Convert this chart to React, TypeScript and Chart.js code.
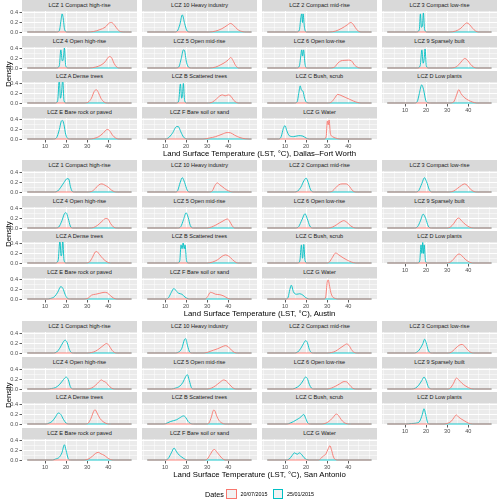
import React, { useEffect, useRef } from "react";
import { Chart, registerables } from "chart.js";

Chart.register(...registerables);

const FONT = '"Liberation Sans", Arial, Helvetica, sans-serif';

// ---------- categories / labels ----------
const cityNames = ["Dallas–Fort Worth", "Austin", "San Antonio"];
const lczNames = [
  "LCZ 1 Compact high-rise", "LCZ 10 Heavy industry", "LCZ 2 Compact mid-rise", "LCZ 3 Compact low-rise",
  "LCZ 4 Open high-rise", "LCZ 5 Open mid-rise", "LCZ 6 Open low-rise", "LCZ 9 Sparsely built",
  "LCZ A Dense trees", "LCZ B Scattered trees", "LCZ C Bush, scrub", "LCZ D Low plants",
  "LCZ E Bare rock or paved", "LCZ F Bare soil or sand", "LCZ G Water",
];
const dateLabels = ["20/07/2015", "25/01/2015"];
const dateColors = ["#F8766D", "#00BFC4"];
const xTickLabels = [10, 20, 30, 40];
const xGridValues = [0, 5, 10, 15, 20, 25, 30, 35, 40, 45, 50];
const yTickLabels = [0, 0.2, 0.4];
const yGridValues = [0, 0.1, 0.2, 0.3, 0.4];
const xLimits = [-0.9, 53.6];
const yLimits = [-0.021, 0.441];
const dataRange = [1.6, 51];

// ---------- density curves: [LST, density] ----------
const dfwSummer = [
  [[30,0],[33,0.01],[36,0.05],[38.5,0.1],[40.5,0.19],[41.5,0.2],[43,0.14],[44.5,0.05],[46,0.005],[48,0]],
  [[31,0],[34,0.02],[37,0.07],[39.5,0.14],[41,0.18],[42.5,0.14],[44.5,0.05],[47,0.005],[48.5,0]],
  [[31,0],[34,0.02],[37,0.08],[39.5,0.15],[41.2,0.2],[42.5,0.15],[44,0.05],[46,0]],
  [[31,0],[34,0.02],[36.5,0.08],[38,0.15],[39.3,0.19],[40.5,0.16],[42,0.08],[43.5,0.02],[45,0]],
  [[31,0],[34,0.02],[36.5,0.06],[38.5,0.13],[40.5,0.24],[41.5,0.22],[42.7,0.1],[44,0.02],[45.5,0]],
  [[31,0],[34,0.02],[36.5,0.07],[38.5,0.12],[40,0.17],[41.2,0.22],[42.2,0.16],[43.5,0.05],[45,0]],
  [[31,0],[33.5,0.02],[35,0.1],[36.5,0.15],[38,0.16],[40,0.165],[41.5,0.15],[43,0.06],[45,0.005],[46,0]],
  [[31,0],[33.5,0.01],[35.5,0.07],[37,0.15],[38.3,0.2],[39.5,0.17],[41,0.08],[42.5,0.02],[44,0]],
  [[28.5,0],[30.5,0.02],[32,0.1],[33.3,0.24],[34.3,0.28],[35.3,0.22],[36.5,0.1],[38,0.02],[39.5,0]],
  [[30,0],[32.5,0.02],[34.5,0.09],[36,0.15],[37.2,0.17],[38.5,0.15],[40,0.17],[41.3,0.14],[42.5,0.06],[44,0.01],[45,0]],
  [[30,0],[32,0.02],[33.5,0.1],[35,0.18],[36.5,0.16],[38.5,0.12],[40.5,0.08],[42.5,0.04],[44.5,0.01],[46,0]],
  [[31,0],[33,0.02],[34.3,0.15],[35.5,0.28],[36.5,0.2],[38,0.12],[40,0.06],[42,0.02],[44,0]],
  [[31,0],[33,0.01],[35.5,0.05],[37.5,0.12],[39.5,0.2],[40.5,0.18],[42,0.08],[43.5,0.02],[45,0]],
  [[28,0],[31,0.02],[34,0.05],[37,0.1],[39.5,0.135],[41,0.13],[43,0.08],[45.5,0.03],[48,0.005],[50,0]],
  [[28.5,0],[29.5,0.05],[30.1,0.38],[30.5,0.3],[30.9,0.4],[31.5,0.12],[32.5,0.05],[34,0.02],[36,0]],
];
const dfwWinter = [
  [[15.5,0],[16.8,0.03],[17.6,0.25],[18.1,0.38],[18.6,0.3],[19.3,0.05],[20.5,0]],
  [[14.5,0],[15.8,0.02],[17,0.15],[18.2,0.36],[19.3,0.18],[20.5,0.02],[22,0]],
  [[15.5,0],[16.8,0.04],[17.5,0.3],[17.9,0.38],[18.3,0.2],[18.6,0.38],[19.2,0.1],[20.2,0]],
  [[15.5,0],[16.8,0.05],[17.3,0.38],[17.8,0.1],[18.3,0.15],[18.7,0.4],[19.3,0.05],[20.5,0]],
  [[15.5,0],[16.8,0.05],[17.5,0.38],[18.2,0.15],[18.7,0.2],[19.2,0.42],[19.8,0.05],[21,0]],
  [[15,0],[16.5,0.02],[17.7,0.2],[18.7,0.38],[19.2,0.37],[20.2,0.12],[21.3,0.01],[22.5,0]],
  [[15.5,0],[16.8,0.04],[17.6,0.3],[17.9,0.38],[18.3,0.25],[18.8,0.38],[19.5,0.08],[20.5,0]],
  [[16,0],[17.2,0.05],[18,0.38],[18.6,0.1],[19.1,0.2],[19.5,0.4],[20.1,0.05],[21,0]],
  [[15,0],[16,0.05],[16.8,0.5],[17.3,0.1],[17.8,0.2],[18.4,0.5],[19,0.05],[20,0]],
  [[15.5,0],[16.5,0.05],[17.3,0.4],[17.9,0.1],[18.3,0.18],[18.7,0.41],[19.3,0.05],[20.3,0]],
  [[14.5,0],[15.8,0.03],[16.5,0.2],[17.2,0.36],[17.8,0.27],[18.5,0.25],[19.3,0.1],[20.3,0.01],[21.5,0]],
  [[14.5,0],[15.8,0.03],[16.8,0.2],[17.9,0.38],[18.8,0.28],[19.8,0.06],[21,0.005],[22,0]],
  [[14,0],[15.5,0.03],[16.8,0.2],[17.7,0.37],[18.3,0.39],[19,0.3],[19.8,0.1],[21,0.005],[22,0]],
  [[10,0],[11.5,0.02],[13.5,0.12],[15.5,0.26],[16.3,0.26],[17.5,0.15],[18.8,0.04],[20,0.005],[21,0]],
  [[7,0],[8.2,0.05],[9.2,0.22],[10,0.28],[10.8,0.18],[12,0.07],[14,0.05],[16.5,0.07],[18.5,0.06],[20,0.02],[21.5,0]],
];
const austinSummer = [
  [[30,0],[32,0.01],[34,0.08],[35.5,0.15],[37,0.17],[38.5,0.14],[40,0.1],[41.5,0.04],[43,0.005],[44,0]],
  [[31,0],[32.5,0.03],[33.7,0.14],[34.8,0.19],[36,0.15],[37.5,0.1],[39,0.05],[41,0.01],[42,0]],
  [[30.5,0],[32.5,0.02],[34,0.09],[35.5,0.15],[37,0.17],[39,0.17],[40.5,0.12],[42,0.03],[43.5,0]],
  [[31,0],[33,0.02],[35,0.08],[36.8,0.14],[38.2,0.17],[39.5,0.14],[41,0.06],[42.7,0.01],[44,0]],
  [[31,0],[33,0.01],[35,0.06],[37,0.14],[38.8,0.2],[39.8,0.19],[41,0.1],[42.5,0.02],[44,0]],
  [[30,0],[32,0.02],[34,0.06],[36,0.11],[38,0.16],[39.5,0.19],[40.5,0.15],[41.8,0.05],[43,0]],
  [[30.5,0],[32.5,0.02],[34.5,0.07],[36.5,0.13],[37.8,0.155],[39.3,0.12],[41,0.05],[42.5,0.01],[44,0]],
  [[30,0],[31.5,0.02],[33.2,0.1],[34.6,0.19],[35.5,0.21],[36.8,0.15],[38.5,0.08],[40.5,0.02],[42.5,0]],
  [[29,0],[31,0.02],[32.5,0.12],[33.8,0.23],[34.5,0.24],[35.8,0.18],[37.5,0.09],[39.5,0.02],[41,0]],
  [[30,0],[32.5,0.02],[35,0.07],[37,0.14],[38.7,0.17],[40.3,0.14],[42,0.07],[43.7,0.01],[45,0]],
  [[29.5,0],[31,0.02],[32.5,0.12],[34,0.21],[35.5,0.17],[37.5,0.11],[39.5,0.06],[41.5,0.02],[43.5,0]],
  [[29.5,0],[31.5,0.02],[33,0.08],[34.5,0.16],[35.6,0.19],[36.8,0.16],[38.5,0.08],[40.5,0.02],[42,0]],
  [[28.5,0],[30.5,0.02],[32,0.08],[34,0.1],[36,0.12],[38,0.14],[39.5,0.13],[41,0.07],[42.5,0.02],[44,0]],
  [[29,0],[30.2,0.05],[31.5,0.14],[32.5,0.13],[34,0.1],[36,0.09],[38,0.06],[39.5,0.02],[41,0]],
  [[28.5,0],[29.3,0.05],[30,0.35],[30.5,0.4],[31,0.3],[31.7,0.14],[32.5,0.05],[34,0.01],[35,0]],
];
const austinWinter = [
  [[14.5,0],[16,0.02],[17.5,0.1],[19,0.2],[20.5,0.28],[21.3,0.27],[22,0.12],[23,0.01],[24,0]],
  [[15,0],[16,0.03],[17.2,0.2],[18.2,0.3],[19.3,0.2],[20.5,0.04],[21.5,0]],
  [[14.5,0],[16,0.02],[17.5,0.1],[19,0.24],[20,0.29],[21,0.2],[22,0.06],[23,0.005],[24,0]],
  [[15,0],[16.5,0.03],[18,0.18],[19.2,0.3],[20.2,0.22],[21.5,0.05],[22.7,0]],
  [[15,0],[16.5,0.02],[18,0.15],[19.2,0.3],[20,0.32],[21,0.2],[22,0.04],[23,0]],
  [[16,0],[17.5,0.03],[18.8,0.18],[20,0.32],[21,0.22],[22,0.05],[23.5,0]],
  [[15,0],[16.5,0.03],[18,0.17],[19.5,0.3],[20.5,0.2],[21.8,0.04],[23,0]],
  [[14.5,0],[16,0.03],[17.3,0.15],[18.6,0.29],[19.8,0.2],[21,0.04],[22.5,0]],
  [[15,0],[16.2,0.05],[17.1,0.48],[17.6,0.15],[18,0.2],[18.4,0.48],[19,0.06],[20,0]],
  [[16,0],[17,0.05],[17.6,0.38],[18.1,0.3],[18.6,0.42],[19.1,0.3],[19.5,0.38],[20.2,0.05],[21,0]],
  [[16,0],[17,0.04],[17.8,0.38],[18.3,0.1],[18.6,0.2],[18.9,0.39],[19.5,0.05],[20.5,0]],
  [[16,0],[17,0.05],[17.6,0.38],[18,0.2],[18.4,0.43],[18.8,0.2],[19.1,0.38],[19.7,0.05],[20.5,0]],
  [[11,0],[12.5,0.01],[14.5,0.05],[16,0.14],[17.5,0.26],[18.5,0.22],[19.5,0.1],[20.5,0.02],[22,0]],
  [[10.5,0],[11.7,0.03],[13,0.14],[14.2,0.22],[15.5,0.16],[16.5,0.12],[18,0.1],[19.5,0.04],[21,0.005],[22,0]],
  [[10.5,0],[11.5,0.04],[12.3,0.2],[13,0.29],[14,0.15],[15.5,0.1],[17,0.11],[18.5,0.08],[19.8,0.03],[21,0.005],[22,0]],
];
const sanAntonioSummer = [
  [[30,0],[32,0.01],[34,0.04],[36,0.1],[38,0.17],[39.2,0.2],[40.3,0.16],[41.7,0.06],[43,0.01],[44,0]],
  [[28.5,0],[30.5,0.02],[33,0.06],[35,0.09],[37,0.13],[38.7,0.155],[40,0.13],[41.5,0.06],[43,0.01],[44.5,0]],
  [[30,0],[32,0.01],[34,0.04],[36,0.1],[38,0.16],[39.2,0.19],[40.3,0.16],[41.8,0.05],[43,0.01],[44,0]],
  [[30.5,0],[32,0.02],[33.5,0.08],[35,0.14],[36,0.17],[37,0.18],[38.3,0.14],[39.8,0.06],[41.3,0.01],[42.5,0]],
  [[30,0],[32,0.02],[34,0.08],[35.5,0.15],[36.8,0.19],[37.8,0.16],[38.6,0.15],[40,0.08],[41.5,0.02],[43,0]],
  [[30,0],[32,0.02],[34,0.07],[36,0.14],[37.8,0.19],[39,0.17],[40.5,0.1],[42,0.03],[43.5,0]],
  [[30,0],[32,0.02],[34,0.06],[36,0.11],[38,0.155],[39.2,0.15],[40.5,0.09],[42,0.02],[43.5,0]],
  [[30,0],[31.5,0.02],[33,0.12],[34.4,0.23],[35.5,0.19],[37,0.12],[38.5,0.07],[40,0.03],[41.5,0.005],[43,0]],
  [[29,0],[30.5,0.02],[31.8,0.12],[33,0.26],[33.7,0.3],[34.7,0.23],[36,0.12],[37.5,0.05],[39.5,0.005],[41,0]],
  [[29.5,0],[30.8,0.02],[32,0.15],[33,0.29],[33.6,0.28],[34.5,0.17],[35.5,0.08],[37,0.02],[38.5,0]],
  [[27.5,0],[29.5,0.02],[31.5,0.08],[33,0.15],[34.3,0.21],[35.3,0.18],[36.5,0.1],[38,0.03],[39.5,0.005],[41,0]],
  [[28.5,0],[30.5,0.02],[32,0.06],[33.3,0.14],[34.3,0.19],[35.3,0.15],[36.5,0.11],[38,0.07],[40,0.02],[42,0]],
  [[28.5,0],[30.5,0.02],[32.5,0.08],[34,0.14],[35.3,0.16],[36.5,0.13],[38,0.1],[39.5,0.05],[41,0.01],[42.5,0]],
  [[28.5,0],[30,0.02],[31.5,0.12],[32.8,0.21],[33.5,0.22],[34.5,0.17],[35.8,0.1],[37.2,0.03],[38.5,0]],
  [[26,0],[27.2,0.04],[28.3,0.09],[29.3,0.12],[30.5,0.24],[31.3,0.3],[32,0.22],[33,0.06],[34.2,0.005],[35,0]],
];
const sanAntonioWinter = [
  [[14,0],[15.5,0.02],[17,0.1],[18.5,0.22],[19.5,0.27],[20.5,0.22],[21.5,0.08],[22.5,0.01],[23.5,0]],
  [[15,0],[16.5,0.02],[18,0.1],[19.2,0.28],[19.8,0.3],[20.7,0.15],[21.7,0.02],[23,0]],
  [[14.5,0],[16,0.02],[17.5,0.1],[18.8,0.2],[19.8,0.26],[20.6,0.22],[21.5,0.08],[22.5,0.01],[23.5,0]],
  [[14.5,0],[16,0.03],[17.3,0.1],[18.5,0.2],[19.3,0.29],[20,0.22],[21,0.06],[22,0.005],[23,0]],
  [[11,0],[13,0.01],[15,0.03],[17,0.1],[18.8,0.2],[20,0.25],[21,0.2],[22,0.05],[23.2,0]],
  [[13,0],[15,0.02],[17,0.06],[18.5,0.14],[19.8,0.26],[20.6,0.3],[21.5,0.18],[22.5,0.03],[23.5,0]],
  [[13.5,0],[15,0.02],[17,0.08],[18.5,0.17],[19.7,0.25],[20.6,0.22],[21.5,0.1],[22.5,0.02],[23.5,0]],
  [[13,0],[15,0.02],[16.5,0.08],[18,0.18],[19,0.25],[20,0.18],[21,0.05],[22,0.005],[23,0]],
  [[10.5,0],[12,0.02],[13.5,0.06],[15,0.15],[16.3,0.23],[17.5,0.2],[18.7,0.1],[20,0.02],[21.5,0]],
  [[9.5,0],[11,0.02],[12.5,0.05],[14,0.07],[15.5,0.09],[17,0.13],[18.8,0.17],[19.8,0.14],[21,0.05],[22.5,0.005],[23.5,0]],
  [[11,0],[12.5,0.02],[14,0.05],[15.5,0.09],[17,0.13],[18,0.17],[18.9,0.2],[19.8,0.12],[20.8,0.02],[22,0]],
  [[10.5,0],[13,0.01],[15.5,0.02],[17,0.06],[18.2,0.2],[19,0.32],[19.8,0.2],[20.7,0.03],[21.5,0]],
  [[13.5,0],[15,0.02],[16.8,0.06],[18,0.15],[19.2,0.32],[20,0.2],[21,0.03],[22,0]],
  [[10,0],[11.5,0.03],[13,0.15],[14.3,0.25],[15.5,0.17],[16.8,0.1],[18,0.06],[19.5,0.015],[20.8,0]],
  [[10.5,0],[12,0.02],[13.3,0.09],[14.5,0.15],[15.8,0.12],[16.8,0.15],[17.8,0.12],[19,0.05],[20.3,0.01],[21.5,0]],
];

const summerByCity = [dfwSummer, austinSummer, sanAntonioSummer];
const winterByCity = [dfwWinter, austinWinter, sanAntonioWinter];

// ---------- layout ----------
const GROUP_TOP = [0, 160, 321];
const ROW_OFF = [0, 36, 71, 107];
const COL_LEFT = [22, 142, 262, 382];
const PANEL_W = 115;
const STRIP_H = 11;
const PLOT_H = 22;
const PAD = 6;
const Y_AXIS_W = 22;
const X_AXIS_H = 14;

const has = (arr: number[], v: number) => arr.some((a) => Math.abs(a - v) < 1e-9);

const panelBg = {
  id: "panelBg",
  beforeDraw(chart: any) {
    const { ctx, chartArea: a } = chart;
    ctx.save();
    ctx.fillStyle = "#EBEBEB";
    ctx.fillRect(a.left, a.top, a.right - a.left, a.bottom - a.top);
    ctx.restore();
  },
};

function toPoints(pts: number[][]) {
  return [
    { x: dataRange[0], y: 0 },
    ...pts.map(([x, y]) => ({ x, y })),
    { x: dataRange[1], y: 0 },
  ];
}

function Panel(props: {
  summer: number[][];
  winter: number[][];
  showX: boolean;
  showY: boolean;
  left: number;
  top: number;
  width: number;
  height: number;
}) {
  const { summer, winter, showX, showY, left, top, width, height } = props;
  const ref = useRef<HTMLCanvasElement>(null);
  useEffect(() => {
    if (!ref.current) return;
    const tickFont = { family: FONT, size: 5.6 };
    const chart = new Chart(ref.current, {
      type: "line",
      data: {
        datasets: [
          {
            label: dateLabels[0],
            data: toPoints(summer),
            borderColor: dateColors[0],
            borderWidth: 0.9,
            pointRadius: 0,
            fill: false,
            cubicInterpolationMode: "monotone",
          },
          {
            label: dateLabels[1],
            data: toPoints(winter),
            borderColor: dateColors[1],
            borderWidth: 0.9,
            pointRadius: 0,
            fill: false,
            cubicInterpolationMode: "monotone",
          },
        ],
      } as any,
      options: {
        animation: false,
        responsive: false,
        maintainAspectRatio: false,
        events: [],
        layout: { padding: { top: PAD, bottom: showX ? 0 : PAD, left: 0, right: 0 } },
        plugins: { legend: { display: false }, tooltip: { enabled: false } },
        scales: {
          x: {
            type: "linear",
            min: xLimits[0],
            max: xLimits[1],
            afterBuildTicks: (s: any) => {
              s.ticks = xGridValues.map((v) => ({ value: v }));
            },
            afterFit: (s: any) => {
              s.height = showX ? X_AXIS_H : 0;
              s.paddingLeft = 0;
              s.paddingRight = 0;
            },
            border: { display: false },
            grid: {
              color: "#FFFFFF",
              lineWidth: (c: any) => (c.tick && has(xTickLabels, c.tick.value) ? 1 : 0.5),
              drawTicks: true,
              tickLength: 2.5,
              tickWidth: 0.8,
              tickColor: (c: any) =>
                showX && c.tick && has(xTickLabels, c.tick.value) ? "#333333" : "rgba(0,0,0,0)",
            },
            ticks: {
              display: showX,
              autoSkip: false,
              maxRotation: 0,
              padding: 0.5,
              color: "#4D4D4D",
              font: tickFont,
              callback: (v: any) => (has(xTickLabels, Number(v)) ? String(v) : ""),
            },
          },
          y: {
            type: "linear",
            min: yLimits[0],
            max: yLimits[1],
            afterBuildTicks: (s: any) => {
              s.ticks = yGridValues.map((v) => ({ value: v }));
            },
            afterFit: (s: any) => {
              s.width = showY ? Y_AXIS_W : 0;
              s.paddingTop = 0;
              s.paddingBottom = 0;
            },
            border: { display: false },
            grid: {
              color: "#FFFFFF",
              lineWidth: (c: any) => (c.tick && has(yTickLabels, c.tick.value) ? 1 : 0.5),
              drawTicks: true,
              tickLength: 2.5,
              tickWidth: 0.8,
              tickColor: (c: any) =>
                showY && c.tick && has(yTickLabels, c.tick.value) ? "#333333" : "rgba(0,0,0,0)",
            },
            ticks: {
              display: showY,
              autoSkip: false,
              padding: 1.5,
              color: "#4D4D4D",
              font: tickFont,
              callback: (v: any) => (has(yTickLabels, Number(v)) ? Number(v).toFixed(1) : ""),
            },
          },
        },
      } as any,
      plugins: [panelBg],
    });
    return () => chart.destroy();
  }, []);
  return (
    <canvas
      ref={ref}
      width={width}
      height={height}
      style={{ position: "absolute", left, top, width, height }}
    />
  );
}

export default function App() {
  const strips: any[] = [];
  const panels: any[] = [];
  const texts: any[] = [];

  cityNames.forEach((city, g) => {
    const gt = GROUP_TOP[g];
    lczNames.forEach((name, i) => {
      const r = Math.floor(i / 4);
      const c = i % 4;
      const showX = r === 3 || (r === 2 && c === 3);
      const showY = c === 0;
      const stripTop = gt + ROW_OFF[r];
      const plotTop = stripTop + STRIP_H;
      strips.push(
        <div
          key={`s-${g}-${i}`}
          style={{
            position: "absolute",
            left: COL_LEFT[c],
            top: stripTop,
            width: PANEL_W,
            height: STRIP_H,
            background: "#D9D9D9",
            color: "#1A1A1A",
            fontSize: 5.6,
            lineHeight: `${STRIP_H}px`,
            textAlign: "center",
            whiteSpace: "nowrap",
          }}
        >
          {name}
        </div>
      );
      const left = COL_LEFT[c] - (showY ? Y_AXIS_W : 0);
      const width = PANEL_W + (showY ? Y_AXIS_W : 0);
      const top = plotTop - PAD;
      const height = PAD + PLOT_H + (showX ? X_AXIS_H : PAD);
      panels.push(
        <Panel
          key={`p-${g}-${i}`}
          summer={summerByCity[g][i]}
          winter={winterByCity[g][i]}
          showX={showX}
          showY={showY}
          left={left}
          top={top}
          width={width}
          height={height}
        />
      );
    });
    texts.push(
      <div
        key={`d-${g}`}
        style={{
          position: "absolute",
          left: 7.5,
          top: gt + 74,
          transform: "translate(-50%, -50%) rotate(-90deg)",
          fontSize: 7.6,
          color: "#000",
          whiteSpace: "nowrap",
        }}
      >
        Density
      </div>
    );
    texts.push(
      <div
        key={`t-${g}`}
        style={{
          position: "absolute",
          left: 259.5,
          top: gt + 153,
          transform: "translate(-50%, -50%)",
          fontSize: 7.8,
          color: "#000",
          whiteSpace: "nowrap",
        }}
      >
        {`Land Surface Temperature (LST, °C), ${city}`}
      </div>
    );
  });

  const legendY = 494;
  const keyLefts = [226, 272.5];
  const labelLefts = [240.5, 287];

  return (
    <div
      style={{
        position: "absolute",
        left: 0,
        top: 0,
        width: 499,
        height: 500,
        overflow: "hidden",
        background: "#FFFFFF",
        fontFamily: FONT,
      }}
    >
      {strips}
      {panels}
      {texts}
      <div
        style={{
          position: "absolute",
          left: 205,
          top: legendY,
          transform: "translateY(-50%)",
          fontSize: 7.2,
          color: "#000",
          whiteSpace: "nowrap",
        }}
      >
        Dates
      </div>
      {dateLabels.map((lab, k) => (
        <React.Fragment key={`lg-${k}`}>
          <div
            style={{
              position: "absolute",
              left: keyLefts[k],
              top: legendY - 5.5,
              width: 10.5,
              height: 10.5,
              boxSizing: "border-box",
              border: `1px solid ${dateColors[k]}`,
              background: "#F2F2F2",
            }}
          />
          <div
            style={{
              position: "absolute",
              left: labelLefts[k],
              top: legendY,
              transform: "translateY(-50%)",
              fontSize: 5.4,
              color: "#000",
              whiteSpace: "nowrap",
            }}
          >
            {lab}
          </div>
        </React.Fragment>
      ))}
    </div>
  );
}
